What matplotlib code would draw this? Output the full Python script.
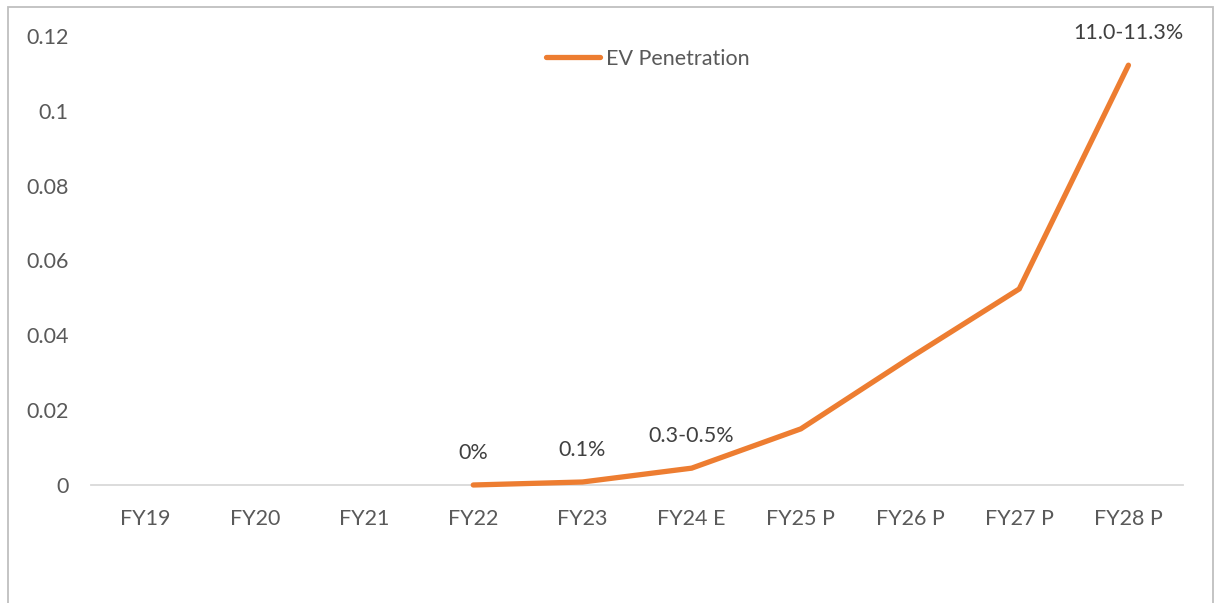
import matplotlib.pyplot as plt
from matplotlib.patches import Rectangle

categories = ["FY19", "FY20", "FY21", "FY22", "FY23", "FY24 E", "FY25 P", "FY26 P", "FY27 P", "FY28 P"]
ev_penetration = [None, None, None, 0.0, 0.0008, 0.0045, 0.015, 0.034, 0.0524, 0.1122]
point_labels = {"FY22": "0%", "FY23": "0.1%", "FY24 E": "0.3-0.5%", "FY28 P": "11.0-11.3%"}

plt.rcParams['font.family'] = ['Lato', 'DejaVu Sans']
FS = 15.5

fig = plt.figure(figsize=(12.19, 6.03), dpi=100)
ax = fig.add_axes([0.0747, 0.1957, 0.8958, 0.7446])

xs = [i for i, v in enumerate(ev_penetration) if v is not None]
ys = [v for v in ev_penetration if v is not None]
ax.plot(xs, ys, color="#ED7D31", linewidth=3.8, solid_capstyle="round",
        solid_joinstyle="miter", label="EV Penetration", zorder=3, clip_on=False)

for i, cat in enumerate(categories):
    if cat in point_labels:
        ax.annotate(point_labels[cat], (i, ev_penetration[i]), xytext=(0, 23),
                    textcoords="offset points", ha="center", va="center",
                    fontsize=FS, color="#404040")

ax.set_xlim(-0.5, len(categories) - 0.5)
ax.set_ylim(0, 0.12)
ax.set_xticks(range(len(categories)))
ax.set_xticklabels(categories)
ax.set_yticks([0, 0.02, 0.04, 0.06, 0.08, 0.1, 0.12])
ax.set_yticklabels(["0", "0.02", "0.04", "0.06", "0.08", "0.1", "0.12"])
ax.tick_params(axis="both", length=0, labelsize=FS, labelcolor="#595959")
ax.tick_params(axis="x", pad=17)
ax.tick_params(axis="y", pad=16)

for side in ["top", "left", "right"]:
    ax.spines[side].set_visible(False)
ax.spines["bottom"].set_color("#D9D9D9")
ax.spines["bottom"].set_linewidth(1.3)

leg = ax.legend(loc="upper center", bbox_to_anchor=(0.51, 1.015), frameon=False,
                fontsize=FS, handlelength=2.5, handletextpad=0.3)
for t in leg.get_texts():
    t.set_color("#595959")

fig.patches.append(Rectangle((8 / 1219, -0.01), 1205 / 1219, 1 - 7 / 603 + 0.01,
                             transform=fig.transFigure, fill=False,
                             edgecolor="#BFBFBF", linewidth=1.3))

fig.savefig("out.png", dpi=100)
